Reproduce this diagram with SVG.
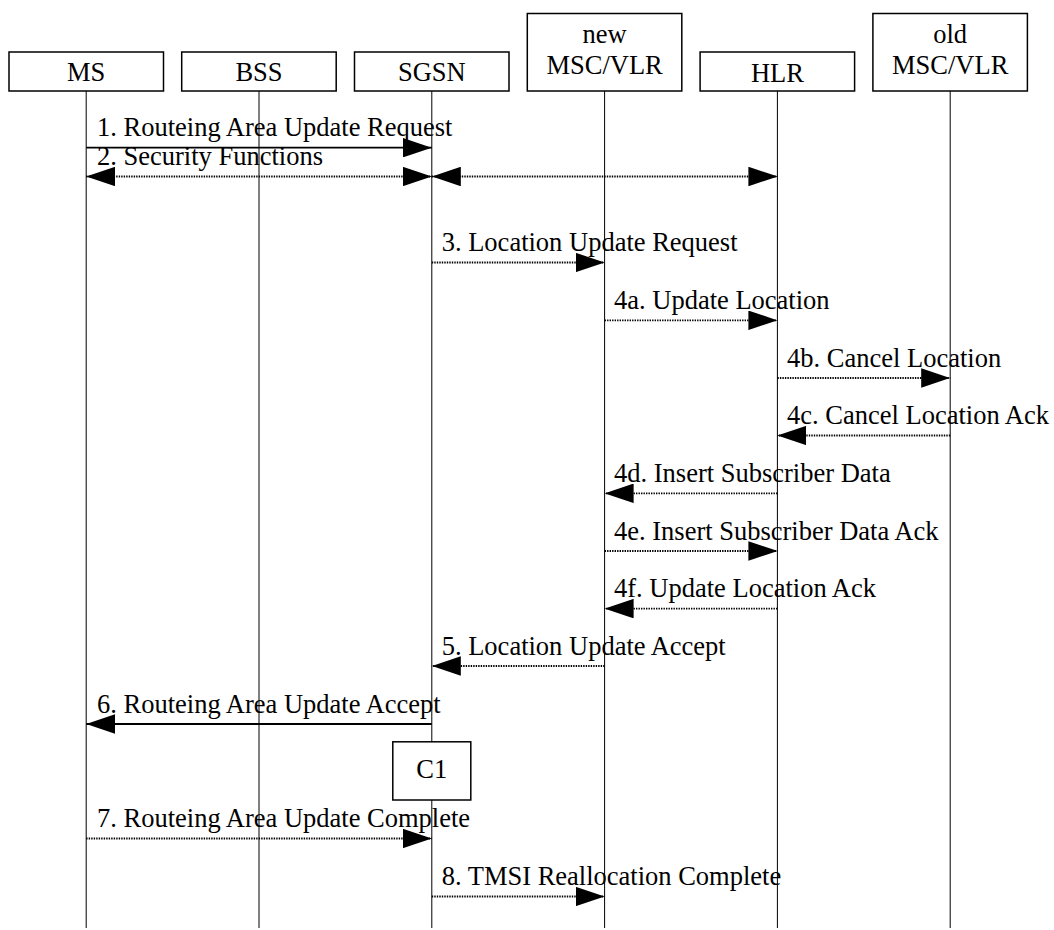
<svg xmlns="http://www.w3.org/2000/svg" width="1054" height="930" viewBox="0 0 1054 930">
<defs>
<style>
.box{fill:#fff;stroke:#000;stroke-width:1.5}
.life{stroke:#000;stroke-width:1;fill:none}
text{font-family:'Liberation Serif','Times New Roman','DejaVu Serif',serif;font-size:26.5px;fill:#000}
.c{text-anchor:middle}
.solid{stroke:#000;stroke-width:1.8;fill:none}
.dot{stroke:#000;stroke-width:1.8;stroke-dasharray:1.4 1.1;fill:none}
</style>
<marker id="ah" markerUnits="userSpaceOnUse" viewBox="0 0 29 19.5" markerWidth="29" markerHeight="19.5" refX="29" refY="9.75" orient="auto-start-reverse">
<path d="M0,0 L29,9.75 L0,19.5 Z" fill="#000"/>
</marker>
</defs>
<rect width="1054" height="930" fill="#fff"/>
<g font-family="Liberation Serif, Times New Roman, serif" font-size="26.5">
<g id="node-ms">
<line class="life" x1="86.2" y1="91" x2="86.2" y2="928"/>
<rect class="box" x="9" y="52" width="154.5" height="39"/>
<text class="c" x="86.2" y="81">MS</text>
</g>
<g id="node-bss">
<line class="life" x1="259" y1="91" x2="259" y2="928"/>
<rect class="box" x="181.7" y="52" width="154.5" height="39"/>
<text class="c" x="259" y="81">BSS</text>
</g>
<g id="node-sgsn">
<line class="life" x1="431.8" y1="91" x2="431.8" y2="928"/>
<rect class="box" x="354.5" y="52" width="154.5" height="39"/>
<text class="c" x="431.8" y="81">SGSN</text>
</g>
<g id="node-newmsc">
<line class="life" x1="604.6" y1="91" x2="604.6" y2="928"/>
<rect class="box" x="527.3" y="13.5" width="154.5" height="77.5"/>
<text class="c" x="604.6" y="42.5">new</text>
<text class="c" x="604.6" y="74">MSC/VLR</text>
</g>
<g id="node-hlr">
<line class="life" x1="777.4" y1="91" x2="777.4" y2="928"/>
<rect class="box" x="700.1" y="52" width="154.5" height="39"/>
<text class="c" x="777.4" y="81.5">HLR</text>
</g>
<g id="node-oldmsc">
<line class="life" x1="950.2" y1="91" x2="950.2" y2="928"/>
<rect class="box" x="872.9" y="13.5" width="154.5" height="77.5"/>
<text class="c" x="950.2" y="42.5">old</text>
<text class="c" x="950.2" y="74">MSC/VLR</text>
</g>
<g id="node-c1">
<rect class="box" x="392.8" y="741.8" width="78" height="58.2"/>
<text class="c" x="431.8" y="778">C1</text>
</g>
<g id="connectors">
<line class="solid" x1="86.2" y1="147.7" x2="431.8" y2="147.7" marker-end="url(#ah)"/>
<line class="dot" x1="86.2" y1="176.5" x2="431.8" y2="176.5" marker-start="url(#ah)" marker-end="url(#ah)"/>
<line class="dot" x1="431.8" y1="176.5" x2="777.4" y2="176.5" marker-start="url(#ah)" marker-end="url(#ah)"/>
<line class="dot" x1="431.8" y1="262.5" x2="604.6" y2="262.5" marker-end="url(#ah)"/>
<line class="dot" x1="604.6" y1="320.3" x2="777.4" y2="320.3" marker-end="url(#ah)"/>
<line class="dot" x1="777.4" y1="378" x2="950.2" y2="378" marker-end="url(#ah)"/>
<line class="dot" x1="950.2" y1="435.5" x2="777.4" y2="435.5" marker-end="url(#ah)"/>
<line class="dot" x1="777.4" y1="493.3" x2="604.6" y2="493.3" marker-end="url(#ah)"/>
<line class="dot" x1="604.6" y1="551" x2="777.4" y2="551" marker-end="url(#ah)"/>
<line class="dot" x1="777.4" y1="608.6" x2="604.6" y2="608.6" marker-end="url(#ah)"/>
<line class="dot" x1="604.6" y1="666" x2="431.8" y2="666" marker-end="url(#ah)"/>
<line class="solid" x1="431.8" y1="724" x2="86.2" y2="724" marker-end="url(#ah)"/>
<line class="dot" x1="86.2" y1="838.5" x2="431.8" y2="838.5" marker-end="url(#ah)"/>
<line class="dot" x1="431.8" y1="896.5" x2="604.6" y2="896.5" marker-end="url(#ah)"/>
</g>
<g id="labels">
<text x="97" y="136.4">1. Routeing Area Update Request</text>
<text x="97" y="165">2. Security Functions</text>
<text x="441.7" y="251">3. Location Update Request</text>
<text x="614" y="309">4a. Update Location</text>
<text x="787" y="366.5">4b. Cancel Location</text>
<text x="787" y="423.8">4c. Cancel Location Ack</text>
<text x="614" y="482">4d. Insert Subscriber Data</text>
<text x="614" y="539.5">4e. Insert Subscriber Data Ack</text>
<text x="614" y="597">4f. Update Location Ack</text>
<text x="441.7" y="655">5. Location Update Accept</text>
<text x="97" y="712.5">6. Routeing Area Update Accept</text>
<text x="97" y="827">7. Routeing Area Update Complete</text>
<text x="441.7" y="885">8. TMSI Reallocation Complete</text>
</g>
</g>
</svg>
